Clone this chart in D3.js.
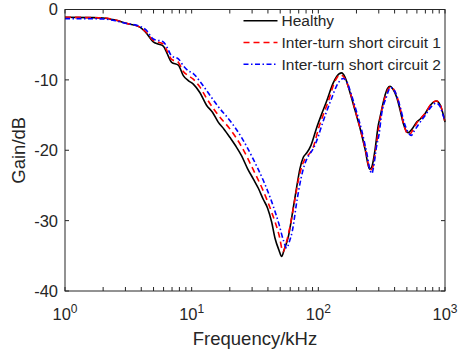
<!DOCTYPE html>
<head>
  <meta charset="utf-8">
  <title>Gain vs frequency</title>
  <script src="https://d3js.org/d3.v7.min.js"></script>
  <style>
    body { margin: 0; background: #fff; }
    text { font-family: "Liberation Sans", Arial, sans-serif; fill: #262626; }
  </style>
</head>
<body>
  <div id="chart"></div>
  <script type="text/javascript">

    // [frequency in kHz, gain in dB]
    var healthy = [
      [1, -1.1], [1.57, -1.15], [2.0, -1.2], [2.48, -1.5], [3.09, -2.0], [3.9, -2.5],
      [4.36, -3.3], [4.98, -4.6], [5.42, -4.9], [5.97, -5.2], [6.38, -6.2], [6.95, -7.5],
      [7.85, -7.9], [8.59, -9.4], [9.4, -10.1], [10.3, -10.6], [11.6, -11.8], [13.1, -13.6],
      [14.6, -14.6], [16.2, -16.0], [18.0, -17.0], [20.1, -18.2], [22.3, -19.4], [24.8, -20.8],
      [27.6, -22.6], [30.7, -24.1], [33.6, -25.4], [36.8, -27.0], [39.7, -28.2], [42.8, -30.2],
      [45.5, -32.5], [48.9, -34.2], [51.4, -35.1], [53.6, -34.2], [57.9, -32.3], [63.4, -28.2],
      [67.5, -25.2], [71.6, -22.6], [76.1, -21.0], [80.9, -20.4], [87.5, -19.3], [97.0, -16.8],
      [106, -14.9], [116.4, -13.0], [130.6, -10.5], [139.6, -9.5], [153, -9.0], [162.3, -9.6],
      [177.8, -11.8], [194.6, -14.3], [213, -16.8], [233.6, -19.8], [254, -22.7], [265, -22.3],
      [280, -20.0], [297, -16.5], [307, -15.3], [336, -12.2], [352, -11.2], [369, -10.9],
      [388, -11.3], [416, -12.5], [441, -14.2], [469, -16.2], [492, -17.2], [512, -17.5],
      [549, -17.0], [598, -16.0], [635, -15.6], [695, -14.8], [775, -13.5], [855, -13.0],
      [913, -13.5], [964, -14.8], [1000, -16.0]
    ];

    var shortCircuit1 = [
      [1, -1.1], [2.0, -1.2], [2.5, -1.5], [3.09, -2.0], [3.9, -2.5], [4.36, -3.2],
      [4.98, -4.4], [5.97, -4.9], [6.4, -5.9], [6.95, -7.1], [7.85, -7.5], [8.59, -8.8],
      [9.4, -9.4], [10.3, -9.9], [11.6, -11.0], [13.1, -12.6], [16.2, -15.0], [20.1, -17.0],
      [24.8, -19.5], [30.7, -22.8], [36.8, -25.8], [42.8, -28.8], [48.9, -32.0], [52.7, -34.4],
      [55.5, -33.3], [59.5, -31.0], [65.3, -27.0], [70, -24.0], [75, -22.0], [80, -21.0],
      [85, -20.5], [91, -19.6], [100, -17.0], [120, -13.0], [137, -10.0], [148, -9.3],
      [155, -9.4], [164, -10.0], [180, -12.0], [197, -14.5], [215, -17.0], [236, -20.0],
      [257, -22.8], [268, -22.5], [283, -20.0], [300, -16.8], [310, -15.2], [340, -12.2],
      [372, -11.0], [392, -11.3], [420, -12.5], [445, -14.2], [472, -16.3], [495, -17.4],
      [520, -17.8], [555, -17.2], [605, -16.0], [640, -15.5], [700, -14.7], [780, -13.4],
      [860, -13.0], [915, -13.5], [965, -14.8], [1000, -16.0]
    ];

    var shortCircuit2 = [
      [1, -1.3], [1.5, -1.3], [2.0, -1.35], [2.5, -1.6], [3.09, -2.0], [3.9, -2.4],
      [4.36, -2.9], [4.98, -4.2], [5.97, -4.6], [6.4, -5.4], [6.95, -6.6], [7.85, -7.0],
      [8.6, -8.0], [9.4, -8.7], [10.3, -9.1], [11.6, -10.2], [13.1, -11.5], [16.2, -13.8],
      [20.1, -15.8], [24.8, -18.2], [30.7, -21.3], [36.8, -24.3], [42.8, -27.3], [48.9, -30.5],
      [53, -32.8], [56.3, -33.9], [59, -33.0], [62.3, -31.5], [68, -27.0], [73, -24.0],
      [78, -22.0], [85, -20.6], [91, -19.8], [100, -18.0], [105, -16.8], [125, -13.0],
      [143, -10.5], [157, -9.8], [167, -10.2], [183, -12.2], [200, -14.5], [220, -17.2],
      [240, -20.2], [258, -23.0], [265, -23.3], [272, -22.5], [288, -19.5], [303, -17.5],
      [315, -15.0], [342, -12.6], [372, -11.1], [395, -11.4], [420, -12.5], [445, -14.0],
      [475, -16.0], [510, -17.4], [541, -17.9], [570, -17.3], [620, -16.3], [700, -15.0],
      [780, -13.8], [855, -13.3], [915, -13.8], [965, -15.0], [1000, -15.8]
    ];

    var seriesNames = ['Healthy', 'Inter-turn short circuit 1', 'Inter-turn short circuit 2'];
    var seriesData = [healthy, shortCircuit1, shortCircuit2];
    var seriesColors = ['#000000', '#ff0000', '#0000ff'];
    var seriesDash = [null, '6,4', '5,2.5,1.5,2.5'];

    var xTicks = [1, 10, 100, 1000];
    var xTickExp = ['0', '1', '2', '3'];
    var yTicks = [-40, -30, -20, -10, 0];

    var totalWidth = 459;
    var totalHeight = 354;
    var margin = { top: 9.5, right: 14, bottom: 63, left: 65 };
    var width = totalWidth - margin.left - margin.right;
    var height = totalHeight - margin.top - margin.bottom;

    var xScale = d3.scaleLog().domain([1, 1000]).range([0, width]);
    var yScale = d3.scaleLinear().domain([-40, 0]).range([height, 0]);

    // Minor ticks 2..9 of every decade
    var minorTicks = [];
    [1, 10, 100].forEach(function (d) {
      for (var k = 2; k < 10; k++) minorTicks.push(d * k);
    });

    var svg = d3.select('#chart')
      .append('svg')
        .attr('width', totalWidth)
        .attr('height', totalHeight);

    var group = svg.append('g')
      .attr('transform', 'translate(' + margin.left + ',' + margin.top + ')');

    var axisColor = '#262626';
    var tickLen = 4;

    // Curves
    var line = d3.line()
      .x(function (d) { return xScale(d[0]); })
      .y(function (d) { return yScale(d[1]); })
      .curve(d3.curveMonotoneX);

    var plotArea = group.append('g');
    seriesData.forEach(function (s, i) {
      plotArea.append('path')
        .datum(s)
        .attr('d', line)
        .attr('fill', 'none')
        .attr('stroke', seriesColors[i])
        .attr('stroke-width', 1.6)
        .attr('stroke-dasharray', seriesDash[i]);
    });

    // Box and inward ticks
    var allX = xTicks.concat(minorTicks);
    function tickLines(sel, vals, fn) {
      sel.selectAll(null).data(vals).enter().append('line')
        .each(fn)
        .attr('stroke', axisColor)
        .attr('stroke-width', 1);
    }
    var ticks = group.append('g');
    tickLines(ticks, allX, function (d) {
      d3.select(this).attr('x1', xScale(d)).attr('x2', xScale(d))
        .attr('y1', height).attr('y2', height - tickLen);
    });
    tickLines(ticks, allX, function (d) {
      d3.select(this).attr('x1', xScale(d)).attr('x2', xScale(d))
        .attr('y1', 0).attr('y2', tickLen);
    });
    tickLines(ticks, yTicks, function (d) {
      d3.select(this).attr('x1', 0).attr('x2', tickLen)
        .attr('y1', yScale(d)).attr('y2', yScale(d));
    });
    tickLines(ticks, yTicks, function (d) {
      d3.select(this).attr('x1', width).attr('x2', width - tickLen)
        .attr('y1', yScale(d)).attr('y2', yScale(d));
    });

    group.append('rect')
      .attr('x', 0).attr('y', 0)
      .attr('width', width).attr('height', height)
      .attr('fill', 'none')
      .attr('stroke', axisColor)
      .attr('stroke-width', 1);

    // X tick labels 10^n
    xTicks.forEach(function (d, i) {
      var t = group.append('text')
        .attr('x', xScale(d))
        .attr('y', height + 29)
        .attr('text-anchor', 'middle')
        .style('font-size', '16.5px');
      t.append('tspan').text('10');
      t.append('tspan')
        .attr('dy', -7)
        .style('font-size', '12px')
        .text(xTickExp[i]);
    });

    // Y tick labels
    group.selectAll('.ylab').data(yTicks).enter().append('text')
      .attr('x', -7)
      .attr('y', function (d) { return yScale(d); })
      .attr('dy', '0.36em')
      .attr('text-anchor', 'end')
      .style('font-size', '16.5px')
      .text(function (d) { return d; });

    // Axis titles
    svg.append('text')
      .attr('x', margin.left + width / 2)
      .attr('y', 345)
      .attr('text-anchor', 'middle')
      .style('font-size', '18.5px')
      .text('Frequency/kHz');

    svg.append('text')
      .attr('transform', 'translate(25,' + (margin.top + height / 2) + ') rotate(-90)')
      .attr('text-anchor', 'middle')
      .style('font-size', '18.5px')
      .text('Gain/dB');

    // Legend
    var legend = svg.append('g');
    seriesNames.forEach(function (name, i) {
      var y = 20.7 + i * 21.8;
      legend.append('line')
        .attr('x1', 243.5).attr('x2', 277.5)
        .attr('y1', y).attr('y2', y)
        .attr('stroke', seriesColors[i])
        .attr('stroke-width', 1.6)
        .attr('stroke-dasharray', seriesDash[i]);
      legend.append('text')
        .attr('x', 281.5)
        .attr('y', y)
        .attr('dy', '0.36em')
        .style('font-size', '15.5px')
        .text(name);
    });
  </script>
</body>
